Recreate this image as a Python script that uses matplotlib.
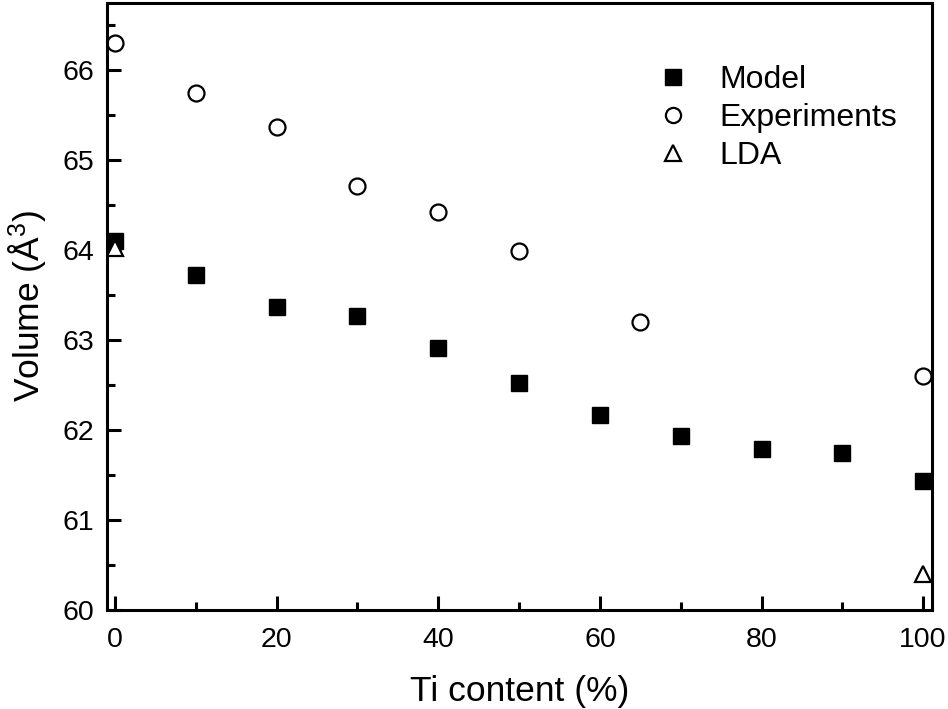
import matplotlib
matplotlib.use("Agg")
import matplotlib.pyplot as plt
from matplotlib.ticker import MultipleLocator

plt.rcParams['font.family'] = ['Liberation Sans', 'DejaVu Sans']
plt.rcParams['mathtext.fontset'] = 'custom'
plt.rcParams['mathtext.rm'] = 'Liberation Sans'
plt.rcParams['mathtext.it'] = 'Liberation Sans:italic'

model_x = [0, 10, 20, 30, 40, 50, 60, 70, 80, 90, 100]
model_y = [64.10, 63.73, 63.37, 63.27, 62.91, 62.52, 62.17, 61.94, 61.79, 61.75, 61.43]
exp_x = [0, 10, 20, 30, 40, 50, 65, 100]
exp_y = [66.30, 65.75, 65.37, 64.72, 64.43, 63.99, 63.20, 62.60]
lda_x = [0, 100]
lda_y = [64.03, 60.40]

fig = plt.figure(figsize=(9.48, 7.09), dpi=100)
ax = fig.add_axes([107/948, 1-610/709, (932-107)/948, (610-3)/709])

ms = 11.5
ax.plot(model_x, model_y, linestyle='none', marker='s', ms=ms, mfc='black', mec='black', mew=1, label='Model')
ax.plot(exp_x, exp_y, linestyle='none', marker='o', ms=ms, mfc='white', mec='black', mew=1.6, label='Experiments')
ax.plot(lda_x, lda_y, linestyle='none', marker='^', ms=ms, mfc='white', mec='black', mew=1.6, label='LDA')

ax.set_xlim(-1, 101.1)
ax.set_ylim(60, 66.75)
ax.xaxis.set_major_locator(MultipleLocator(20))
ax.xaxis.set_minor_locator(MultipleLocator(10))
ax.yaxis.set_major_locator(MultipleLocator(1))
ax.yaxis.set_minor_locator(MultipleLocator(0.5))
ax.tick_params(which='both', direction='in', width=2.2, labelsize=20.5)
ax.tick_params(axis='x', which='both', pad=12)
ax.tick_params(axis='y', which='both', pad=9)
ax.tick_params(which='major', length=10)
ax.tick_params(which='minor', length=5.5)
ax.tick_params(top=False, right=False, which='both')
for s in ax.spines.values():
    s.set_linewidth(2.2)

ax.set_xlabel('Ti content (%)', fontsize=25.5, labelpad=16)
ax.set_ylabel(r'Volume (Å$^3$)', fontsize=25.5, labelpad=10)

leg = ax.legend(loc='upper left', bbox_to_anchor=(0.651, 0.919), frameon=False, fontsize=23,
                handlelength=1.0, handletextpad=0.97, labelspacing=0.25, borderaxespad=0,
                markerscale=0.95)

fig.savefig('out.png', dpi=100)
